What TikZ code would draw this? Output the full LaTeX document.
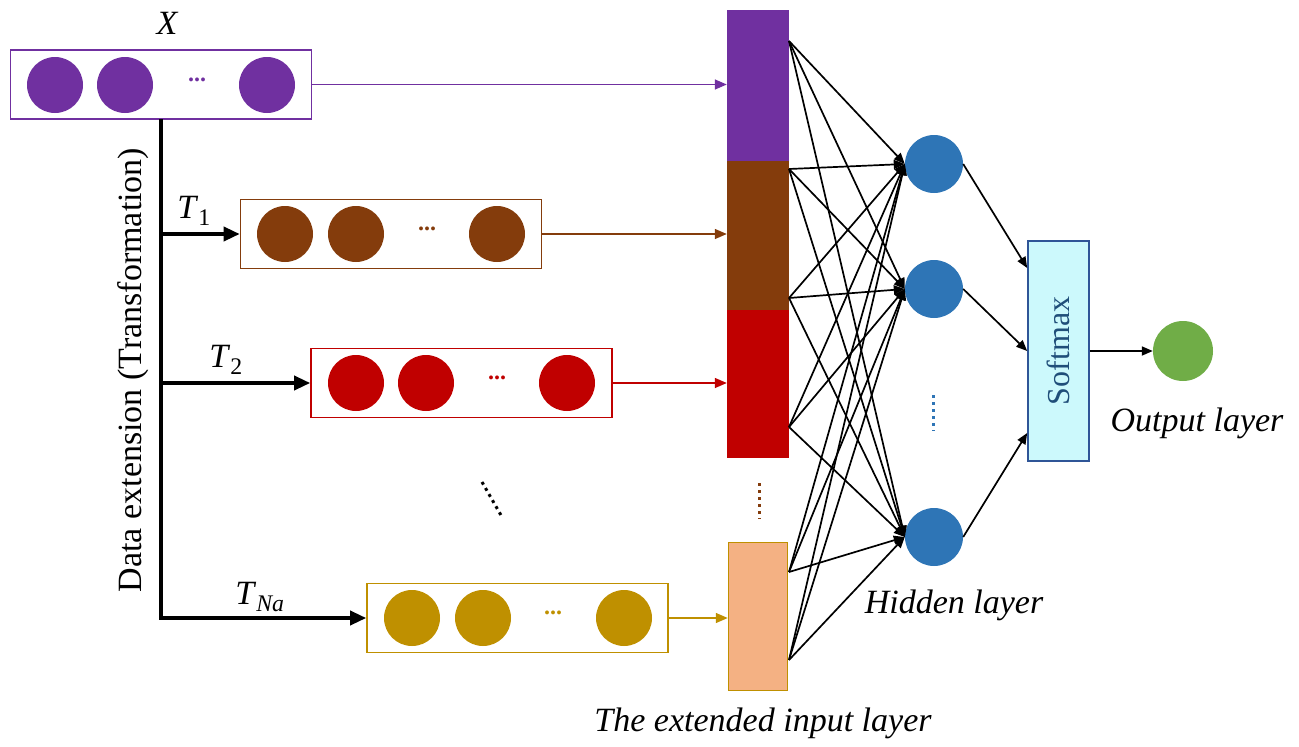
\documentclass[tikz,border=0pt]{standalone}
\usepackage{fontspec}
\setmainfont{Liberation Serif}
\usetikzlibrary{arrows.meta,calc}
\definecolor{cpur}{HTML}{7030A0}
\definecolor{cbrn}{HTML}{843C0C}
\definecolor{cred}{HTML}{C00000}
\definecolor{cgld}{HTML}{BF9000}
\definecolor{corg}{HTML}{F4B183}
\definecolor{cblu}{HTML}{2E75B6}
\definecolor{cgrn}{HTML}{70AD47}
\definecolor{csmf}{HTML}{CCF9FC}
\definecolor{csmd}{HTML}{2F5597}
\definecolor{csmt}{HTML}{1F4E79}
\begin{document}
\begin{tikzpicture}[x=1pt,y=-1pt,
  seqbox/.style={draw=#1, line width=1.6pt, minimum width=301pt, minimum height=69pt, inner sep=0pt},
  ball/.style={circle, fill=#1, minimum size=56pt, inner sep=0pt},
  dotstxt/.style={text=#1, font=\fontsize{24}{24}\selectfont\bfseries, inner sep=0pt},
  feed/.style={draw=#1, line width=1.4pt, -{Triangle[length=12pt,width=10pt]}},
  branch/.style={draw=black, line width=3.5pt, -{Triangle[length=16pt,width=14pt]}},
  net/.style={draw=black, line width=1.7pt, -{Triangle[length=11pt,width=9pt]}},
  hid/.style={circle, fill=cblu, minimum size=58pt, inner sep=0pt},
  lbl/.style={font=\fontsize{34}{34}\selectfont\itshape, inner sep=0pt},
  col/.style={fill=#1, minimum width=62pt, inner sep=0pt}
]
\useasboundingbox (0,0) rectangle (1299,747);

% X box
\node[seqbox=cpur] (bx) at (161,84.5) {};
\node[ball=cpur] (x1) at (55,85) {};
\node[ball=cpur] (x2) at (125,85) {};
\node[ball=cpur] (x3) at (267,85) {};
\node[dotstxt=cpur] (xd) at (197,80) {...};
\node[lbl] (xl) at (167,23) {X};

% T1 box
\node[seqbox=cbrn] (b1) at (391,234) {};
\node[ball=cbrn] (a1) at (285,234) {};
\node[ball=cbrn] (a2) at (356,234) {};
\node[ball=cbrn] (a3) at (497,234) {};
\node[dotstxt=cbrn] (ad) at (427,229) {...};

% T2 box
\node[seqbox=cred] (b2) at (461.5,383) {};
\node[ball=cred] (c1) at (356,383) {};
\node[ball=cred] (c2) at (426,383) {};
\node[ball=cred] (c3) at (567,383) {};
\node[dotstxt=cred] (cd) at (497,378) {...};

% TNa box
\node[seqbox=cgld] (b3) at (517.5,618) {};
\node[ball=cgld] (d1) at (412,618) {};
\node[ball=cgld] (d2) at (483,618) {};
\node[ball=cgld] (d3) at (624,618) {};
\node[dotstxt=cgld] (dd) at (553,613) {...};

% branch structure
\coordinate (top) at (161,119);
\coordinate (j1) at (161,234);
\coordinate (j2) at (161,383);
\coordinate (j3) at (161,618);
\draw[black, line width=3.5pt] (top) -- ([yshift=-1.75pt]j3);
\draw[branch] (j1) -- (b1.west);
\draw[branch] (j2) -- (b2.west);
\draw[branch] (j3) -- (b3.west);
\node[font=\fontsize{34}{34}\selectfont, inner sep=0pt] (t1) at (194,211) {\textit{T}\textsubscript{1}};
\node[font=\fontsize{34}{34}\selectfont, inner sep=0pt] (t2) at (226,360) {\textit{T}\textsubscript{2}};
\node[font=\fontsize{34}{34}\selectfont, inner sep=0pt] (t3) at (260,597) {\textit{T}\textsubscript{\textit{Na}}};
\node[font=\fontsize{34}{34}\selectfont, rotate=90, inner sep=0pt] (dext) at (133,370) {Data extension (Transformation)};
\draw[black, line width=3pt, dash pattern=on 3pt off 4pt] (482,482) -- (502,517);

% extended input column
\node[col=cpur, minimum height=151pt] (k1) at (758,85.5) {};
\node[col=cbrn, minimum height=149pt] (k2) at (758,235.5) {};
\node[col=cred, minimum height=148pt] (k3) at (758,384) {};
\node[col=corg, draw=cgld, line width=1.5pt, minimum width=59pt, minimum height=148pt] (k4) at (758,616.5) {};
\draw[cbrn, line width=3pt, dash pattern=on 3pt off 4pt] (759,483) -- (759,519);

\draw[feed=cpur] (bx.east) -- (k1.west |- bx.east);
\draw[feed=cbrn] (b1.east) -- (k2.west |- b1.east);
\draw[feed=cred] (b2.east) -- (k3.west |- b2.east);
\draw[feed=cgld] (b3.east) -- (k4.west |- b3.east);

% hidden layer
\node[hid] (h1) at (934,164) {};
\node[hid] (h2) at (934,289) {};
\node[hid] (h3) at (934,537) {};
\draw[cblu, line width=3pt, dash pattern=on 3pt off 4pt] (933,395) -- (933,431);

\coordinate (s1) at (789,41);
\coordinate (s2) at (789,169);
\coordinate (s3) at (789,298);
\coordinate (s4) at (789,427);
\coordinate (s5) at (789,572);
\coordinate (s6) at (789,660);
\foreach \s in {s1,s2,s3,s4,s5,s6}{
  \foreach \h in {h1,h2,h3}{
    \draw[net] (\s) -- (\h.west);
  }
}

% softmax
\node[draw=csmd, fill=csmf, line width=1.6pt, minimum width=61pt, minimum height=220pt, inner sep=0pt] (sm) at (1058.5,351) {};
\node[rotate=90, text=csmt, font=\fontsize{32}{32}\selectfont, inner sep=0pt] (smt) at (1058.5,351) {Softmax};
\coordinate (si1) at ([yshift=83pt]sm.west);
\coordinate (si2) at (sm.west);
\coordinate (si3) at ([yshift=-82pt]sm.west);
\draw[net] (h1.east) -- (si1);
\draw[net] (h2.east) -- (si2);
\draw[net] (h3.east) -- (si3);

% output
\node[circle, fill=cgrn, minimum size=60pt, inner sep=0pt] (out) at (1183,351) {};
\draw[net] (sm.east) -- (out.west);

\node[lbl] (ol) at (1197,423) {Output layer};
\node[lbl] (hl) at (954,605) {Hidden layer};
\node[lbl] (il) at (763,723) {The extended input layer};
\end{tikzpicture}
\end{document}
